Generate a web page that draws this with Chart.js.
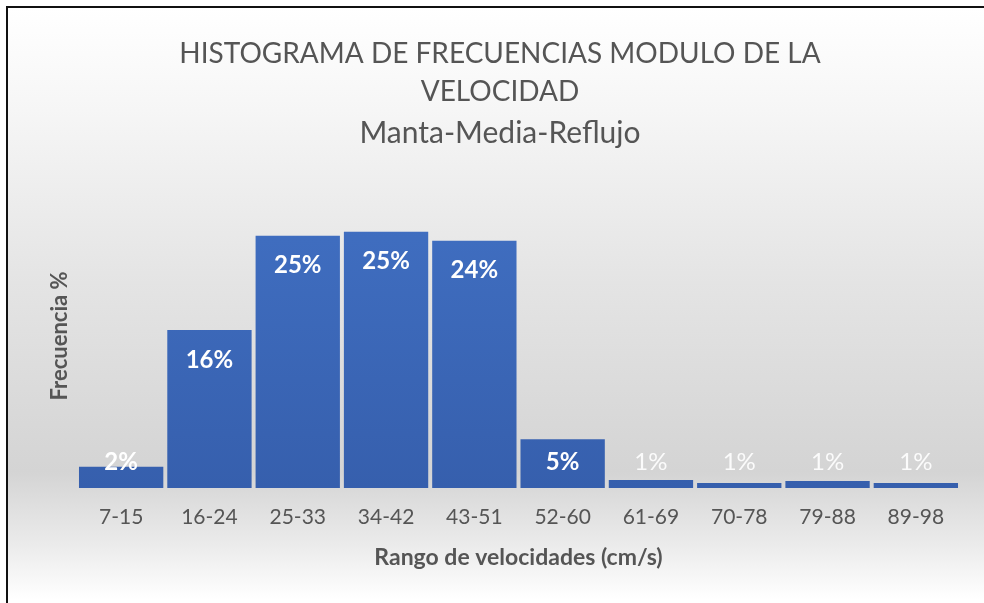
<!DOCTYPE html>
<html>
<head>
<meta charset="utf-8">
<script src="https://cdn.jsdelivr.net/npm/chart.js@4.4.1/dist/chart.umd.min.js"></script>
<style>
  body { margin: 0; width: 984px; height: 603px; overflow: hidden; background: #fff; }
  #frame {
    position: absolute; left: 6px; top: 6px; width: 990px; height: 610px;
    border: 2px solid #111;
    background: linear-gradient(to bottom, #ffffff 0%, #f7f7f7 15%, #e4e4e4 45%, #d4d4d4 76%, #ebebeb 88%, #ffffff 97%);
  }
  #histChart { position: absolute; left: 0; top: 0; }
</style>
</head>
<body>
<div id="frame"></div>
<canvas id="histChart" width="984" height="603"></canvas>
<script>
// Ranges of velocity (cm/s) and frequency in percent
const rangos = ['7-15', '16-24', '25-33', '34-42', '43-51', '52-60', '61-69', '70-78', '79-88', '89-98'];
const frecuencias = [2.1, 15.6, 24.9, 25.3, 24.4, 4.8, 0.8, 0.5, 0.7, 0.5];
const etiquetas = ['2%', '16%', '25%', '25%', '24%', '5%', '1%', '1%', '1%', '1%'];

const gris = '#555555';
const fuente = 'Lato, "Open Sans", sans-serif';

// Draws the percentage labels inside the top of each bar
const labelPlugin = {
    id: 'barLabels',
    afterDatasetsDraw(chart) {
        const ctx = chart.ctx;
        const meta = chart.getDatasetMeta(0);
        ctx.save();
        ctx.textAlign = 'center';
        ctx.textBaseline = 'middle';
        meta.data.forEach((bar, i) => {
            const y = Math.min(bar.y + 30, bar.base - 26);
            const big = frecuencias[i] >= 2;
            ctx.font = (big ? 'bold ' : '') + '24px ' + fuente;
            ctx.fillStyle = big ? '#ffffff' : 'rgba(255,255,255,0.9)';
            ctx.fillText(etiquetas[i], bar.x, y);
        });
        ctx.restore();
    }
};

const ctx = document.getElementById('histChart').getContext('2d');
new Chart(ctx, {
    type: 'bar',
    data: {
        labels: rangos,
        datasets: [{
            data: frecuencias,
            backgroundColor: (c) => {
                const area = c.chart.chartArea;
                if (!area) return '#3f6bbf';
                const g = c.chart.ctx.createLinearGradient(0, area.top, 0, area.bottom);
                g.addColorStop(0, '#4170c3');
                g.addColorStop(1, '#365fad');
                return g;
            },
            barPercentage: 0.955,
            categoryPercentage: 1.0
        }]
    },
    options: {
        responsive: false,
        animation: false,
        layout: { padding: { left: 40, right: 24, top: 0, bottom: 0 } },
        plugins: {
            legend: { display: false },
            tooltip: { enabled: false },
            title: {
                display: true,
                text: ['HISTOGRAMA DE FRECUENCIAS MODULO DE LA', 'VELOCIDAD'],
                color: gris,
                font: { family: fuente, size: 28, weight: 'normal', lineHeight: '38px' },
                padding: { top: 35, bottom: 3 }
            },
            subtitle: {
                display: true,
                text: 'Manta-Media-Reflujo',
                color: gris,
                font: { family: fuente, size: 30, weight: 'normal', lineHeight: '38px' },
                padding: { top: 0, bottom: 32 }
            }
        },
        scales: {
            x: {
                grid: { display: false, drawTicks: false },
                border: { display: false },
                ticks: {
                    color: gris,
                    font: { family: fuente, size: 21 },
                    padding: 17,
                    maxRotation: 0,
                    autoSkip: false
                },
                title: {
                    display: true,
                    text: 'Rango de velocidades (cm/s)',
                    color: gris,
                    font: { family: fuente, size: 23, weight: 'bold' },
                    padding: { top: 0, bottom: 32 }
                },
                afterFit: (scale) => { scale.height = 115; }
            },
            y: {
                min: 0,
                max: 30,
                grid: { display: false, drawTicks: false },
                border: { display: false },
                ticks: { display: false },
                title: {
                    display: true,
                    text: 'Frecuencia %',
                    color: gris,
                    font: { family: fuente, size: 22, weight: 'bold' },
                    padding: { top: 7, bottom: 0 }
                },
                afterFit: (scale) => { scale.width = 37; }
            }
        }
    },
    plugins: [labelPlugin]
});
</script>
</body>
</html>
